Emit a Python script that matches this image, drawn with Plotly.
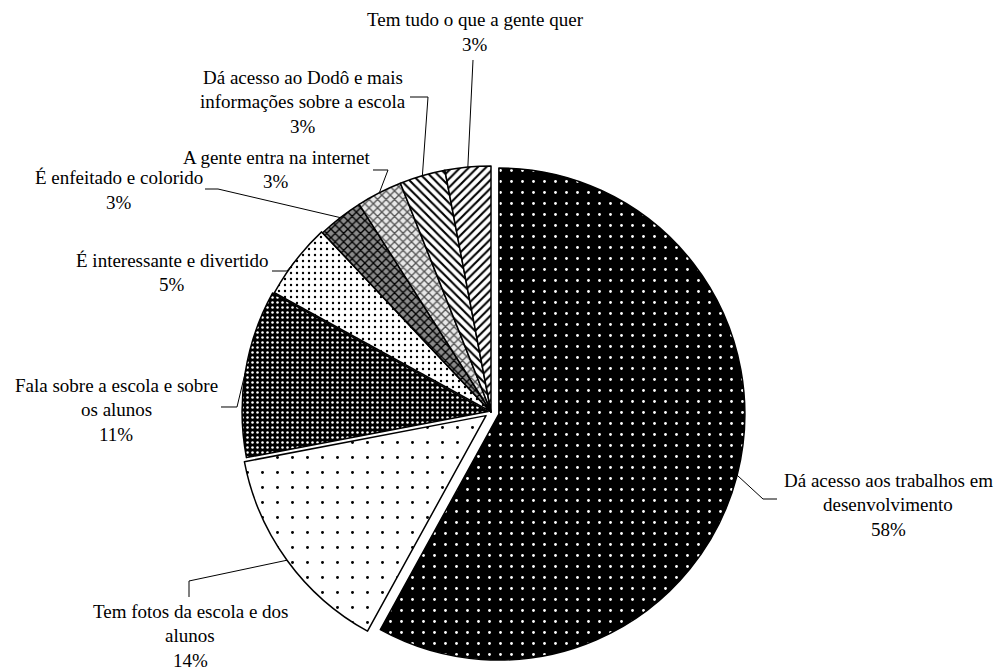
import math
import plotly.graph_objects as go

# ---- data ----
labels = [
    "Dá acesso aos trabalhos em desenvolvimento",
    "Tem fotos da escola e dos alunos",
    "Fala sobre a escola e sobre os alunos",
    "É interessante e divertido",
    "É enfeitado e colorido",
    "A gente entra na internet",
    "Dá acesso ao Dodô e mais informações sobre a escola",
    "Tem tudo o que a gente quer",
]
values = [58, 14, 11, 5, 3, 3, 3, 3]
label_lines = [
    ["Dá acesso aos trabalhos em", "desenvolvimento"],
    ["Tem fotos da escola e dos", "alunos"],
    ["Fala sobre a escola e sobre", "os alunos"],
    ["É interessante e divertido"],
    ["É enfeitado e colorido"],
    ["A gente entra na internet"],
    ["Dá acesso ao Dodô e mais", "informações sobre a escola"],
    ["Tem tudo o que a gente quer"],
]

# ---- styles / layout ----
W, H = 1000, 670
CX, CY, R = 491, 412, 246
pulls = [0.033, 0.025, 0.012, 0.005, 0, 0, 0, 0]
patterns = [
    dict(shape=".", bgcolor="black", fgcolor="white", size=11, solidity=0.05),
    dict(shape=".", bgcolor="white", fgcolor="black", size=15, solidity=0.03),
    dict(shape=".", bgcolor="black", fgcolor="white", size=5, solidity=0.2),
    dict(shape=".", bgcolor="white", fgcolor="black", size=6, solidity=0.12),
    dict(shape="x", bgcolor="#8a8a8a", fgcolor="black", size=6, solidity=0.4),
    dict(shape="x", bgcolor="#e8e8e8", fgcolor="#555555", size=6, solidity=0.4),
    dict(shape="\\", bgcolor="white", fgcolor="black", size=6, solidity=0.35),
    dict(shape="/", bgcolor="white", fgcolor="black", size=6, solidity=0.35),
]
# label block centres (px) and leader elbow / end points (px)
label_pos = [(888, 480), (190, 611), (116, 385), (172, 260), (119, 178), (276, 157), (303, 77), (475, 20)]
leader = [
    [(763, 499), (777, 499)],
    [(189, 581), (189, 597)],
    [(237, 407), (221, 407)],
    [(287, 271), (272, 271)],
    [(218, 189), (205, 189)],
    [(388, 170), (373, 170)],
    [(428, 97), (410, 97)],
    [(473, 60), (473, 60)],
]
LINE_H = 24.5
FONT = dict(family="Liberation Serif, Times New Roman, serif", size=19, color="black")

maxpull = max(pulls)
rd = R * (1 + maxpull)
domain_x = [(CX - rd) / W, (CX + rd) / W]
domain_y = [(H - (CY + rd)) / H, (H - (CY - rd)) / H]

fig = go.Figure(go.Pie(
    labels=labels,
    values=values,
    sort=False,
    direction="clockwise",
    rotation=0,
    pull=pulls,
    textinfo="none",
    hoverinfo="label+percent",
    domain=dict(x=domain_x, y=domain_y),
    marker=dict(
        colors=["white"] * len(values),
        line=dict(color="black", width=1.5),
        pattern=dict(
            shape=[p["shape"] for p in patterns],
            bgcolor=[p["bgcolor"] for p in patterns],
            fgcolor=[p["fgcolor"] for p in patterns],
            size=[p["size"] for p in patterns],
            solidity=[p["solidity"] for p in patterns],
            fillmode="replace",
        ),
    ),
))

def px2paper(x, y):
    return x / W, 1 - y / H

total = sum(values)
cum = 0
shapes = []
annotations = []
for i, v in enumerate(values):
    mid = (cum + v / 2) / total
    cum += v
    th = 2 * math.pi * mid
    rr = R * (1 + pulls[i])
    ex, ey = CX + rr * math.sin(th), CY - rr * math.cos(th)
    pts = [(ex, ey)] + leader[i]
    path = ""
    for j, (x, y) in enumerate(pts):
        px, py = px2paper(x, y)
        path += ("M" if j == 0 else " L") + f"{px:.5f},{py:.5f}"
    shapes.append(dict(type="path", path=path, xref="paper", yref="paper",
                       line=dict(color="black", width=1)))
    pct = f"{round(100 * v / total)}%"
    lines = label_lines[i] + [pct]
    lx, ly = label_pos[i]
    for k, t in enumerate(lines):
        px, py = px2paper(lx, ly + k * LINE_H)
        annotations.append(dict(text=t, x=px, y=py, xref="paper", yref="paper",
                                xanchor="center", yanchor="middle", showarrow=False,
                                font=FONT))

fig.update_layout(
    width=W, height=H,
    margin=dict(l=0, r=0, t=0, b=0),
    paper_bgcolor="white", plot_bgcolor="white",
    showlegend=False,
    shapes=shapes,
    annotations=annotations,
)

fig.write_html("out.html", config={"displayModeBar": False},
               post_script="document.body.style.margin='0';")
